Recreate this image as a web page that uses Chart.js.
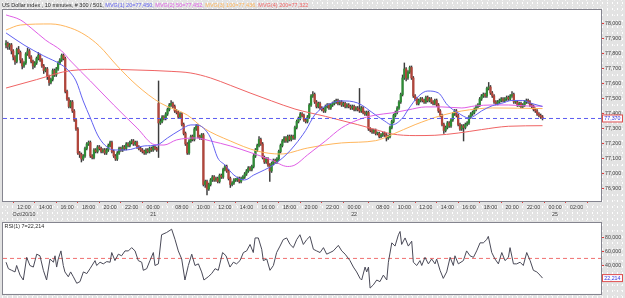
<!DOCTYPE html>
<html><head><meta charset="utf-8">
<script src="https://cdn.jsdelivr.net/npm/chart.js@4.4.1/dist/chart.umd.min.js"></script>
<style>
html,body{margin:0;padding:0;}
body{width:625px;height:298px;overflow:hidden;position:relative;background-color:#e3e3e3;
background-image:radial-gradient(circle,#ffffff 0.7px,transparent 0.9px),radial-gradient(circle,#f5f5f5 0.6px,transparent 0.8px);
background-size:5px 6px,7px 5px;background-position:0 0,2px 3px;}
canvas{position:absolute;left:0;}
#top{top:0;}
#rsi{top:218px;}
</style></head><body>
<canvas id="top" width="625" height="218"></canvas>
<canvas id="rsi" width="625" height="80"></canvas>
<script>
// ---- candles (10-minute bars, index 0..299) ----
const opens=[
77.86,77.87,77.85,77.86,77.82,77.78,77.75,77.83,77.81,77.76,
77.72,77.74,77.80,77.82,77.78,77.75,77.72,77.74,77.77,77.79,
77.76,77.72,77.69,77.70,77.65,77.61,77.63,77.69,77.66,77.70,
77.74,77.76,77.79,77.77,77.55,77.50,77.45,77.48,77.42,77.36,
77.30,77.14,77.13,77.10,77.12,77.17,77.20,77.21,77.12,77.11,
77.16,77.15,77.18,77.17,77.15,77.16,77.14,77.16,77.19,77.21,
77.15,77.12,77.10,77.14,77.17,77.16,77.18,77.17,77.20,77.19,
77.21,77.22,77.20,77.21,77.18,77.17,77.16,77.15,77.14,77.16,
77.15,77.17,77.16,77.18,77.17,77.47,77.34,77.35,77.38,77.37,
77.40,77.43,77.46,77.47,77.45,77.42,77.41,77.38,77.40,77.33,
77.27,77.20,77.14,77.22,77.25,77.23,77.30,77.32,77.25,77.24,
77.26,76.93,76.95,76.90,76.93,76.96,76.98,76.96,76.97,76.95,
76.99,76.98,77.03,77.05,77.02,76.97,76.93,76.94,76.96,76.96,
76.97,76.95,76.97,76.98,77.00,77.02,77.04,77.03,77.05,77.12,
77.16,77.19,77.23,77.20,77.11,77.08,77.10,77.06,77.02,77.07,
77.09,77.08,77.10,77.15,77.19,77.22,77.24,77.22,77.25,77.23,
77.25,77.24,77.31,77.35,77.37,77.40,77.39,77.36,77.35,77.38,
77.46,77.52,77.53,77.48,77.45,77.47,77.44,77.43,77.42,77.45,
77.46,77.44,77.46,77.47,77.48,77.49,77.47,77.48,77.46,77.47,
77.45,77.46,77.45,77.44,77.45,77.43,77.44,77.43,77.42,77.44,
77.41,77.40,77.41,77.30,77.29,77.28,77.29,77.27,77.27,77.25,
77.26,77.27,77.26,77.24,77.25,77.31,77.35,77.39,77.41,77.44,
77.48,77.53,77.64,77.70,77.64,77.68,77.71,77.64,77.52,77.50,
77.47,77.49,77.50,77.49,77.48,77.51,77.49,77.50,77.48,77.47,
77.49,77.46,77.42,77.39,77.33,77.29,77.31,77.34,77.32,77.36,
77.40,77.42,77.39,77.33,77.30,77.32,77.31,77.33,77.34,77.38,
77.40,77.41,77.43,77.45,77.46,77.50,77.52,77.53,77.52,77.57,
77.58,77.54,77.52,77.48,77.47,77.48,77.49,77.50,77.49,77.50,
77.51,77.50,77.52,77.53,77.48,77.48,77.46,77.47,77.45,77.46,
77.48,77.49,77.48,77.46,77.45,77.43,77.42,77.40,77.39,77.38];
const highs=[
77.89,77.88,77.87,77.87,77.83,77.79,77.84,77.85,77.82,77.77,
77.75,77.81,77.84,77.83,77.79,77.76,77.75,77.78,77.81,77.80,
77.77,77.73,77.71,77.71,77.66,77.64,77.70,77.70,77.71,77.75,
77.77,77.80,77.80,77.78,77.56,77.51,77.49,77.49,77.43,77.37,
77.31,77.15,77.14,77.13,77.18,77.21,77.22,77.22,77.13,77.17,
77.17,77.19,77.19,77.18,77.17,77.17,77.17,77.20,77.22,77.22,
77.16,77.13,77.15,77.18,77.18,77.19,77.19,77.21,77.21,77.22,
77.23,77.23,77.22,77.22,77.19,77.18,77.17,77.16,77.17,77.17,
77.18,77.18,77.19,77.19,77.18,77.62,77.37,77.39,77.39,77.41,
77.44,77.47,77.49,77.48,77.46,77.43,77.42,77.41,77.41,77.34,
77.28,77.21,77.23,77.26,77.26,77.31,77.33,77.33,77.26,77.27,
77.27,76.96,76.96,76.94,76.97,76.99,76.99,76.98,76.98,77.00,
77.00,77.04,77.06,77.06,77.03,76.98,76.95,76.97,76.97,76.98,
76.98,76.98,76.99,77.01,77.03,77.05,77.05,77.06,77.13,77.17,
77.20,77.25,77.24,77.21,77.12,77.11,77.11,77.07,77.08,77.10,
77.10,77.11,77.16,77.20,77.23,77.25,77.25,77.26,77.26,77.26,
77.26,77.32,77.36,77.38,77.41,77.41,77.40,77.37,77.39,77.47,
77.53,77.55,77.54,77.49,77.48,77.48,77.45,77.44,77.46,77.47,
77.47,77.47,77.48,77.49,77.50,77.50,77.49,77.49,77.48,77.48,
77.47,77.47,77.46,77.46,77.46,77.45,77.45,77.57,77.45,77.45,
77.42,77.42,77.42,77.31,77.30,77.30,77.30,77.28,77.28,77.27,
77.28,77.28,77.27,77.26,77.32,77.36,77.40,77.42,77.45,77.49,
77.54,77.66,77.74,77.71,77.69,77.72,77.72,77.65,77.53,77.51,
77.50,77.51,77.51,77.50,77.52,77.52,77.51,77.51,77.49,77.50,
77.50,77.47,77.43,77.40,77.34,77.32,77.35,77.35,77.37,77.41,
77.43,77.43,77.40,77.34,77.33,77.33,77.34,77.35,77.39,77.41,
77.42,77.44,77.46,77.47,77.51,77.53,77.54,77.54,77.58,77.61,
77.59,77.55,77.53,77.49,77.49,77.50,77.51,77.51,77.51,77.52,
77.52,77.53,77.55,77.54,77.49,77.49,77.48,77.48,77.47,77.49,
77.50,77.50,77.49,77.47,77.46,77.44,77.43,77.41,77.40,77.39];
const lows=[
77.84,77.83,77.83,77.80,77.76,77.73,77.74,77.80,77.74,77.70,
77.71,77.73,77.79,77.77,77.74,77.70,77.71,77.73,77.76,77.75,
77.71,77.67,77.68,77.63,77.59,77.60,77.62,77.65,77.65,77.69,
77.73,77.75,77.76,77.54,77.49,77.44,77.44,77.41,77.35,77.29,
77.13,77.11,77.08,77.09,77.11,77.16,77.19,77.11,77.10,77.10,
77.14,77.14,77.16,77.14,77.14,77.13,77.13,77.15,77.18,77.14,
77.11,77.09,77.09,77.13,77.15,77.15,77.16,77.16,77.18,77.18,
77.20,77.19,77.19,77.17,77.16,77.15,77.14,77.13,77.13,77.14,
77.14,77.15,77.15,77.16,77.15,77.11,77.33,77.34,77.36,77.36,
77.39,77.42,77.45,77.44,77.41,77.40,77.37,77.37,77.32,77.26,
77.19,77.13,77.13,77.21,77.22,77.22,77.29,77.24,77.23,77.23,
76.92,76.91,76.86,76.89,76.92,76.95,76.95,76.95,76.94,76.94,
76.97,76.97,77.02,77.01,76.96,76.91,76.92,76.93,76.95,76.95,
76.94,76.94,76.96,76.97,76.99,77.01,77.02,77.02,77.04,77.11,
77.15,77.18,77.19,77.10,77.07,77.07,77.05,76.95,77.01,77.06,
77.07,77.07,77.09,77.14,77.18,77.21,77.21,77.21,77.22,77.22,
77.23,77.23,77.30,77.34,77.36,77.38,77.35,77.34,77.34,77.37,
77.45,77.51,77.47,77.44,77.44,77.43,77.42,77.41,77.41,77.44,
77.43,77.43,77.45,77.46,77.47,77.46,77.46,77.45,77.45,77.44,
77.44,77.44,77.43,77.43,77.42,77.42,77.42,77.41,77.41,77.40,
77.39,77.39,77.29,77.28,77.27,77.27,77.26,77.26,77.24,77.24,
77.25,77.25,77.22,77.23,77.24,77.30,77.34,77.38,77.40,77.43,
77.47,77.52,77.63,77.62,77.63,77.67,77.63,77.51,77.49,77.46,
77.46,77.48,77.48,77.47,77.47,77.48,77.48,77.47,77.46,77.46,
77.45,77.41,77.38,77.32,77.27,77.28,77.30,77.31,77.31,77.35,
77.39,77.38,77.32,77.29,77.29,77.22,77.30,77.32,77.33,77.37,
77.39,77.40,77.42,77.44,77.45,77.49,77.51,77.51,77.51,77.56,
77.53,77.51,77.47,77.46,77.46,77.47,77.48,77.48,77.48,77.49,
77.49,77.49,77.51,77.47,77.47,77.45,77.45,77.44,77.44,77.45,
77.47,77.47,77.45,77.44,77.42,77.41,77.39,77.38,77.37,77.36];
const closes=[
77.87,77.85,77.86,77.82,77.78,77.75,77.83,77.81,77.76,77.72,
77.74,77.80,77.82,77.78,77.75,77.72,77.74,77.77,77.79,77.76,
77.72,77.69,77.70,77.65,77.61,77.63,77.69,77.66,77.70,77.74,
77.76,77.79,77.77,77.55,77.50,77.45,77.48,77.42,77.36,77.30,
77.14,77.13,77.10,77.12,77.17,77.20,77.21,77.12,77.11,77.16,
77.15,77.18,77.17,77.15,77.16,77.14,77.16,77.19,77.21,77.15,
77.12,77.10,77.14,77.17,77.16,77.18,77.17,77.20,77.19,77.21,
77.22,77.20,77.21,77.18,77.17,77.16,77.15,77.14,77.16,77.15,
77.17,77.16,77.18,77.17,77.16,77.34,77.35,77.38,77.37,77.40,
77.43,77.46,77.47,77.45,77.42,77.41,77.38,77.40,77.33,77.27,
77.20,77.14,77.22,77.25,77.23,77.30,77.32,77.25,77.24,77.26,
76.93,76.95,76.90,76.93,76.96,76.98,76.96,76.97,76.95,76.99,
76.98,77.03,77.05,77.02,76.97,76.93,76.94,76.96,76.96,76.97,
76.95,76.97,76.98,77.00,77.02,77.04,77.03,77.05,77.12,77.16,
77.19,77.23,77.20,77.11,77.08,77.10,77.06,77.02,77.07,77.09,
77.08,77.10,77.15,77.19,77.22,77.24,77.22,77.25,77.23,77.25,
77.24,77.31,77.35,77.37,77.40,77.39,77.36,77.35,77.38,77.46,
77.52,77.53,77.48,77.45,77.47,77.44,77.43,77.42,77.45,77.46,
77.44,77.46,77.47,77.48,77.49,77.47,77.48,77.46,77.47,77.45,
77.46,77.45,77.44,77.45,77.43,77.44,77.43,77.42,77.44,77.41,
77.40,77.41,77.30,77.29,77.28,77.29,77.27,77.27,77.25,77.26,
77.27,77.26,77.24,77.25,77.31,77.35,77.39,77.41,77.44,77.48,
77.53,77.64,77.70,77.64,77.68,77.71,77.64,77.52,77.50,77.47,
77.49,77.50,77.49,77.48,77.51,77.49,77.50,77.48,77.47,77.49,
77.46,77.42,77.39,77.33,77.29,77.31,77.34,77.32,77.36,77.40,
77.42,77.39,77.33,77.30,77.32,77.31,77.33,77.34,77.38,77.40,
77.41,77.43,77.45,77.46,77.50,77.52,77.53,77.52,77.57,77.58,
77.54,77.52,77.48,77.47,77.48,77.49,77.50,77.49,77.50,77.51,
77.50,77.52,77.53,77.48,77.48,77.46,77.47,77.45,77.46,77.48,
77.49,77.48,77.46,77.45,77.43,77.42,77.40,77.39,77.38,77.37];

// ---- moving averages, read at the bar indices listed ----
const ma20Idx=[0,10,21,31,35,39,43,47,51,55,60,67,77,84,90,97,103,106,110,114,118,122,127,133,138,144,149,156,161,167,172,178,187,196,206,211,215,221,224,230,235,241,246,252,258,261,265,271,276,282,288,293,299];
const ma20Val=[77.94,77.86,77.787,77.727,77.687,77.62,77.487,77.373,77.26,77.193,77.16,77.16,77.187,77.193,77.24,77.293,77.327,77.327,77.307,77.24,77.107,77.06,76.993,76.96,76.993,77.027,77.06,77.127,77.193,77.29,77.393,77.453,77.487,77.473,77.393,77.353,77.327,77.373,77.427,77.52,77.553,77.54,77.46,77.407,77.373,77.387,77.42,77.455,77.47,77.49,77.49,77.47,77.45];
const ma50Idx=[0,8,14,22,31,36,47,60,73,83,88,95,106,114,125,137,148,157,161,168,178,187,196,206,215,224,234,243,254,261,271,280,291,299];
const ma50Val=[78.06,78.027,77.973,77.893,77.82,77.753,77.62,77.46,77.307,77.195,77.193,77.227,77.24,77.22,77.187,77.14,77.093,77.05,77.06,77.127,77.22,77.307,77.36,77.393,77.407,77.427,77.447,77.447,77.44,77.453,77.46,77.46,77.453,77.452];
const ma100Idx=[0,8,25,36,44,52,62,73,86,101,110,125,140,153,168,187,206,215,228,243,254,271,299];
const ma100Val=[77.96,77.993,78.0,77.973,77.927,77.853,77.72,77.59,77.473,77.393,77.307,77.22,77.153,77.133,77.173,77.207,77.222,77.262,77.329,77.391,77.42,77.44,77.436];
const ma200Idx=[0,17,36,55,73,92,103,114,125,136,148,161,178,196,206,215,228,239,252,265,280,299];
const ma200Val=[77.573,77.629,77.689,77.698,77.693,77.684,77.673,77.64,77.591,77.54,77.487,77.433,77.384,77.329,77.296,77.267,77.256,77.258,77.273,77.296,77.318,77.322];

// ---- RSI(7), read at the bar indices listed ----
const rsiIdx=[0,1.3,3.1,5,5.9,7.8,9.6,11.5,13.3,15.2,17.1,18.9,20.8,22.6,24.5,26.4,27.3,28.2,29.1,30.6,31.9,32.8,34.7,36,37.5,39.4,41.2,43.1,45,46.8,49.6,50.5,52.4,54.2,56.1,58,58.9,60.7,62.6,64.4,66.3,68.2,70,71.9,73.7,75.6,76.5,78.4,80.2,82.1,83,84.9,86.7,89.5,92.3,94.2,96,97.9,99.7,101.6,103.5,105.3,107.2,109,110.3,112.7,114.6,116.5,118.3,120.7,122.6,124.8,126.7,128.5,130.4,132.3,134.1,136,137.8,138.8,140.6,142.5,143.4,145.3,147.1,149,150.8,152.7,154.5,156.4,158.3,160.1,162,163.8,165.7,167.6,169.4,171.3,173.1,175,176.9,178.7,180.6,182.4,185.2,187.1,189,191.7,193.6,195.4,197.3,198.2,200.1,201,202,202.9,204.7,206.6,208.4,210.3,212.2,213.1,215,216.8,218.7,219.6,220.5,222.4,224.2,226.1,227,228.9,230.7,231.7,233.5,235.4,237.2,239.1,240,241.9,243.7,245.6,247.5,249.3,250.2,252.1,254.9,256.7,258.6,260.5,262.3,264.2,266,267.9,268.8,270.7,272.5,274.4,276.3,278.1,280,280.9,282.8,284.6,286.5,288.3,290.2,292.1,293.9,295.8,297.6,299];
const rsiVal=[44.6,35.5,33.2,30.9,40.0,26.4,19.5,51.5,40.0,37.8,56.0,53.7,33.2,19.5,49.2,44.6,53.7,37.8,49.2,60.6,40.0,30.9,24.1,30.9,24.1,14.9,17.2,30.9,28.6,35.5,46.9,40.0,44.6,42.3,45.5,44.6,58.3,46.9,56.0,53.7,60.6,60.6,65.2,60.6,46.9,44.6,33.2,35.5,46.9,58.3,40.0,42.3,83.4,86.6,91.2,76.6,60.6,49.2,19.5,40.0,56.0,40.0,42.3,30.9,19.5,24.1,28.6,35.5,33.2,58.3,53.7,37.8,44.6,42.3,46.9,58.3,60.6,69.7,58.3,78.9,78.9,62.9,46.9,49.2,33.2,40.0,58.3,67.4,76.6,78.9,69.7,65.2,76.6,83.4,69.7,76.6,81.1,62.9,60.6,58.3,65.2,56.0,58.3,60.6,68.4,60.6,56.0,46.9,37.8,30.9,21.8,19.5,37.8,30.9,37.8,8.1,12.6,19.5,17.2,26.4,19.5,44.6,72.0,67.4,83.4,88.0,69.7,78.9,67.4,74.3,44.6,40.0,46.9,40.0,51.5,42.3,49.2,42.3,49.2,33.2,21.8,30.9,51.5,40.0,53.7,42.3,46.9,60.6,53.7,51.5,60.6,72.0,72.0,76.6,81.1,58.3,49.2,42.3,58.3,46.9,51.5,65.2,42.3,42.3,44.6,40.0,58.3,46.9,33.2,30.9,26.4,22.214];

// ---- axis labels ----
const tickIdx=[10,22,34,46,58,70,82,98,110,122,134,146,158,170,182,194,210,222,234,246,258,270,282,294,306,318];
const tickTime=['12:00','14:00','16:00','18:00','20:00','22:00','00:00','08:00','10:00','12:00','14:00','16:00','18:00','20:00','22:00','00:00','08:00','10:00','12:00','14:00','16:00','18:00','20:00','22:00','00:00','02:00'];
const tickDate=['Oct/20/10','','','','','','21','','','','','','','','','22','','','','','','','','','25',''];
const priceTicks=[76.9,77.0,77.1,77.2,77.3,77.4,77.5,77.6,77.7,77.8,77.9,78.0];
const rsiTicks=[40,60,80];
const rsiMid=50;

const FONT='"Liberation Sans", Arial, sans-serif';
const FS=5.3;
const X_MIN=-1.7, X_MAX=331.6;
const fmt=v=>v.toFixed(3).replace('.',',');
const pts=(ix,vals)=>ix.map((x,k)=>({x:x,y:vals[k]}));
const lastClose=closes[closes.length-1];
const lastRsi=rsiVal[rsiVal.length-1];

const COL={ma20:'#6262f2',ma50:'#e05ee6',ma100:'#ffb65c',ma200:'#f06464',up:'#2f8c36',down:'#b2453b',wick:'#3c3c3c'};

function framePlugin(id){
  return {
    id:id,
    beforeDraw(chart){const {ctx,chartArea:a}=chart;ctx.save();ctx.fillStyle='#ffffff';ctx.fillRect(a.left,a.top,a.right-a.left,a.bottom-a.top);ctx.restore();},
    afterDatasetsDraw(chart){const {ctx,chartArea:a}=chart;ctx.save();ctx.strokeStyle='#85858f';ctx.lineWidth=1;
      ctx.strokeRect(Math.round(a.left)-0.5,Math.round(a.top)-0.5,Math.round(a.right-a.left)+1,Math.round(a.bottom-a.top)+1);ctx.restore();}
  };
}
function valueBox(ctx,yPix,text){
  ctx.save();
  ctx.fillStyle='#fbfbff';ctx.fillRect(602.5,yPix-3.5,20,7);
  ctx.strokeStyle='#e05050';ctx.lineWidth=1;ctx.strokeRect(602.5,yPix-3.5,20,7);
  ctx.font=FS+'px '+FONT;ctx.fillStyle='#3434dc';ctx.textBaseline='middle';ctx.textAlign='left';
  ctx.fillText(text,604.3,yPix+0.3);
  ctx.restore();
}

const titleParts=[
  ['US Dollar index , 10 minutes, # 300 / 501, ','#2a2a2a'],
  ['MVG(1) 20='+fmt(ma20Val[ma20Val.length-1])+', ',COL.ma20],
  ['MVG(2) 50='+fmt(ma50Val[ma50Val.length-1])+', ',COL.ma50],
  ['MVG(3) 100='+fmt(ma100Val[ma100Val.length-1])+', ',COL.ma100],
  ['MVG(4) 200='+fmt(ma200Val[ma200Val.length-1]),COL.ma200]
];

const topExtras={
  id:'topExtras',
  afterDraw(chart){
    const ctx=chart.ctx;
    ctx.save();
    ctx.font='5.5px '+FONT;ctx.textBaseline='middle';ctx.textAlign='left';
    let x=2;
    titleParts.forEach(([t,c])=>{ctx.fillStyle=c;ctx.fillText(t,x,5);x+=ctx.measureText(t).width;});
    ctx.restore();
    valueBox(ctx,chart.scales.y.getPixelForValue(lastClose),fmt(lastClose));
  }
};
const rsiExtras={
  id:'rsiExtras',
  afterDraw(chart){
    const ctx=chart.ctx,a=chart.chartArea;
    ctx.save();
    ctx.font='5.4px '+FONT;ctx.textBaseline='middle';ctx.textAlign='left';ctx.fillStyle='#2a2a2a';
    ctx.fillText('RSI(1) 7='+fmt(lastRsi),a.left+1.5,a.top+3.5);
    ctx.restore();
    valueBox(ctx,chart.scales.y.getPixelForValue(lastRsi),fmt(lastRsi));
  }
};

const idx=closes.map((_,i)=>i);
const lineDs=(label,ix,vals,color,order)=>({type:'line',label:label,data:pts(ix,vals),borderColor:color,borderWidth:1,pointRadius:0,cubicInterpolationMode:'monotone',order:order});

new Chart(document.getElementById('top'),{
  type:'bar',
  data:{datasets:[
    {type:'line',label:'last',data:[{x:X_MIN,y:lastClose},{x:X_MAX,y:lastClose}],borderColor:'#5c5cf0',borderWidth:1,borderDash:[4,3],pointRadius:0,order:0},
    lineDs('MVG(1) 20',ma20Idx,ma20Val,COL.ma20,1),
    lineDs('MVG(2) 50',ma50Idx,ma50Val,COL.ma50,2),
    lineDs('MVG(3) 100',ma100Idx,ma100Val,COL.ma100,3),
    lineDs('MVG(4) 200',ma200Idx,ma200Val,COL.ma200,4),
    {type:'bar',label:'body',data:idx.map(i=>({x:i,y:[opens[i],closes[i]]})),
     backgroundColor:idx.map(i=>closes[i]>=opens[i]?COL.up:COL.down),barThickness:1.6,grouped:false,minBarLength:1,order:5},
    {type:'bar',label:'wick',data:idx.map(i=>({x:i,y:[lows[i],highs[i]]})),
     backgroundColor:COL.wick,barThickness:0.8,grouped:false,order:6}
  ]},
  options:{
    responsive:false,animation:false,devicePixelRatio:1,events:[],
    layout:{padding:{left:3,top:10,right:0,bottom:0}},
    plugins:{legend:{display:false},tooltip:{enabled:false}},
    scales:{
      x:{type:'linear',min:X_MIN,max:X_MAX,offset:false,position:'bottom',
        afterFit:s=>{s.height=17;},
        afterBuildTicks:s=>{s.ticks=tickIdx.map(v=>({value:v}));},
        ticks:{autoSkip:false,maxRotation:0,minRotation:0,padding:1,color:'#3c3c3c',font:{family:FONT,size:FS,lineHeight:1.3},
          callback:(v)=>{const k=tickIdx.indexOf(v);if(k<0)return '';return tickDate[k]?[tickTime[k],tickDate[k]]:tickTime[k];}},
        grid:{drawOnChartArea:false,drawTicks:true,tickLength:2,color:'#e03c3c'},border:{display:false}},
      y:{type:'linear',position:'right',min:76.82,max:78.093,
        afterFit:s=>{s.width=24;},
        afterBuildTicks:s=>{s.ticks=priceTicks.map(v=>({value:v}));},
        ticks:{padding:1,crossAlign:'near',color:'#444',font:{family:FONT,size:FS},callback:v=>fmt(v)},
        grid:{drawOnChartArea:false,drawTicks:true,tickLength:3,color:'#e03c3c'},border:{display:false}}
    }
  },
  plugins:[framePlugin('frameTop'),topExtras]
});

new Chart(document.getElementById('rsi'),{
  type:'line',
  data:{datasets:[
    {label:'RSI(1) 7',data:pts(rsiIdx,rsiVal),borderColor:'#4a4a58',borderWidth:1,pointRadius:0,order:0},
    {label:'mid',data:[{x:X_MIN,y:rsiMid},{x:X_MAX,y:rsiMid}],borderColor:'#f07070',borderWidth:1,borderDash:[4,3],pointRadius:0,order:1}
  ]},
  options:{
    responsive:false,animation:false,devicePixelRatio:1,events:[],
    layout:{padding:{left:3,top:5,right:0,bottom:2.5}},
    plugins:{legend:{display:false},tooltip:{enabled:false}},
    scales:{
      x:{type:'linear',min:X_MIN,max:X_MAX,display:false},
      y:{type:'linear',position:'right',min:0,max:100,
        afterFit:s=>{s.width=24;},
        afterBuildTicks:s=>{s.ticks=rsiTicks.map(v=>({value:v}));},
        ticks:{padding:1,crossAlign:'near',color:'#444',font:{family:FONT,size:FS},callback:v=>fmt(v)},
        grid:{drawOnChartArea:false,drawTicks:true,tickLength:3,color:'#e03c3c'},border:{display:false}}
    }
  },
  plugins:[framePlugin('frameRsi'),rsiExtras]
});
</script></body></html>
